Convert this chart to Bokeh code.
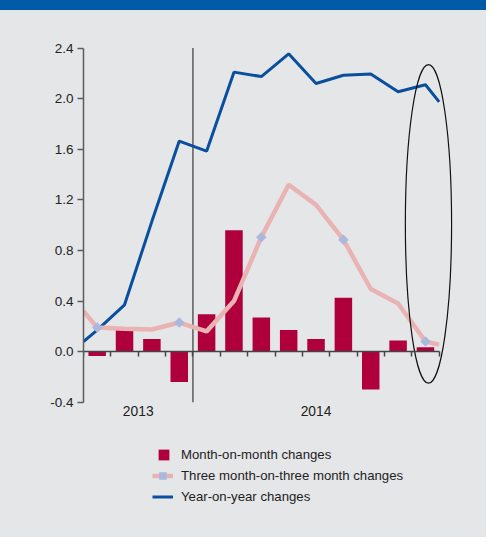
from bokeh.plotting import figure
from bokeh.layouts import column
from bokeh.models import (LinearAxis, FixedTicker, NumeralTickFormatter, Range1d,
                          Legend, LegendItem, ColumnDataSource, Div)
from bokeh.core.properties import value
from bokeh.embed import file_html
from bokeh.resources import INLINE

# ---------------- data ----------------
months = ["Sep-13", "Oct-13", "Nov-13", "Dec-13", "Jan-14", "Feb-14", "Mar-14",
          "Apr-14", "May-14", "Jun-14", "Jul-14", "Aug-14", "Sep-14"]
years = ["2013", "2014"]
months_per_year = [4, 9]

mom_changes = [-0.035, 0.17, 0.10, -0.24, 0.295, 0.96, 0.27, 0.17, 0.10, 0.425, -0.30, 0.088, 0.035]
three_month_changes = [0.19, 0.18, 0.175, 0.23, 0.16, 0.40, 0.905, 1.32, 1.16, 0.885, 0.495, 0.38, 0.08]
yoy_changes = [0.17, 0.37, 1.03, 1.665, 1.585, 2.21, 2.175, 2.355, 2.12, 2.185, 2.195, 2.055, 2.11]
# where the lines meet the left / right edge of the chart (Aug-13 and Oct-14 are only partly shown)
three_month_edges = [0.32, 0.055]
yoy_edges = [0.08, 1.975]

y_ticks = [-0.4, 0.0, 0.4, 0.8, 1.2, 1.6, 2.0, 2.4]
marker_every = 3  # diamonds on every third month

legend_labels = ["Month-on-month changes",
                 "Three month-on-three month changes",
                 "Year-on-year changes"]

# ---------------- styles ----------------
BG = "#e5e6e8"
BAND = "#005ba6"
BAR = "#b0003c"
PINK = "#e9b3b3"
DIAMOND = "#aab8de"
BLUE = "#0a4f9e"
AXIS = "#5c5c5c"
TEXT = "#222222"
FONT = "Liberation Sans"
NAN = float("nan")

n = len(months)
centers = [i + 0.5 for i in range(n)]
line_x = [0] + centers + [n]
three_line = [three_month_edges[0]] + three_month_changes + [three_month_edges[1]]
yoy_line = [yoy_edges[0]] + yoy_changes + [yoy_edges[1]]
dia_idx = list(range(0, n, marker_every))

# thin coloured header band
band = Div(text="", width=486, height=10, margin=0,
           styles={"background-color": BAND})

p = figure(frame_width=383, frame_height=503,
           x_range=Range1d(0, 14), y_range=Range1d(-1.3594, 2.6184),
           x_axis_location=None, y_axis_location="left",
           output_backend="svg", toolbar_location=None,
           min_border_left=83, min_border_right=20, min_border_top=10, min_border_bottom=14)
p.background_fill_color = None
p.border_fill_color = None
p.outline_line_color = None
p.grid.visible = False

# y axis
ya = p.yaxis[0]
ya.bounds = (y_ticks[0], y_ticks[-1])
ya.ticker = FixedTicker(ticks=y_ticks, minor_ticks=[])
ya.formatter = NumeralTickFormatter(format="0.0")
ya.major_tick_out = 6
ya.major_tick_in = 0
ya.minor_tick_out = 0
ya.minor_tick_in = 0
ya.axis_line_color = AXIS
ya.axis_line_width = 1.5
ya.major_tick_line_color = AXIS
ya.major_tick_line_width = 1.5
ya.major_label_standoff = 4
ya.major_label_text_font = FONT
ya.major_label_text_font_size = "13.5px"
ya.major_label_text_color = TEXT

# x axis on the zero line
xa = LinearAxis(fixed_location=0, bounds=(0, n),
                ticker=FixedTicker(ticks=list(range(n + 1)), minor_ticks=[]),
                major_tick_out=5, major_tick_in=0, minor_tick_out=0, minor_tick_in=0,
                axis_line_color="#444444", axis_line_width=1.5,
                major_tick_line_color="#444444", major_tick_line_width=1.5,
                major_label_overrides={i: "" for i in range(n + 1)},
                major_label_text_font_size="1px")
p.add_layout(xa, "below")

# year separator and labels
sep = months_per_year[0]
p.segment(x0=[sep], y0=[y_ticks[0]], x1=[sep], y1=[y_ticks[-1]],
          line_color=AXIS, line_width=1.5)
year_x = []
start = 0
for m in months_per_year:
    year_x.append(start + m / 2)
    start += m
p.text(x=year_x, y=[-0.47] * len(years), text=years,
       text_align="center", text_baseline="middle",
       text_font=value(FONT), text_font_size="13.8px", text_color=TEXT)

# bars
src = ColumnDataSource(dict(x=centers, top=mom_changes))
bars = p.vbar(x="x", top="top", bottom=0, width=0.64, source=src,
              fill_color=BAR, line_color=None)

# lines
blue = p.line(line_x, yoy_line, line_color=BLUE, line_width=3)
pink = p.line(line_x, three_line, line_color=PINK, line_width=4.5)
dia = p.scatter([centers[i] for i in dia_idx], [three_month_changes[i] for i in dia_idx],
                marker="square", angle=0.785398, size=7.4,
                fill_color=DIAMOND, line_color=None)

# highlight ellipse around the latest data
p.ellipse(x=[12.61], y=[1.01], width=1.69, height=2.52,
          fill_color=None, line_color="#111111", line_width=1.2)

# legend (square key for the bars drawn by a proxy with no visible point)
bar_proxy = p.scatter(x=[NAN], y=[NAN], marker="square", size=11, fill_color=BAR, line_color=None)

common = dict(padding=0, margin=0, border_line_alpha=0, background_fill_alpha=0,
              label_text_font=FONT, label_text_font_size="13.2px", label_text_color=TEXT)
leg1 = Legend(items=[LegendItem(label=legend_labels[0], renderers=[bar_proxy])],
              location=(67, 55.5), glyph_width=27, glyph_height=27, label_height=27,
              label_standoff=4, spacing=0, **common)
leg2 = Legend(items=[LegendItem(label=legend_labels[1], renderers=[pink, dia]),
                     LegendItem(label=legend_labels[2], renderers=[blue])],
              location=(69, 17), glyph_width=21, glyph_height=19, label_height=19,
              label_standoff=8, spacing=2, **common)
p.add_layout(leg1)
p.add_layout(leg2)

layout = column(band, p, spacing=0, styles={"background-color": BG})
open("out.html", "w").write(file_html(layout, INLINE))
